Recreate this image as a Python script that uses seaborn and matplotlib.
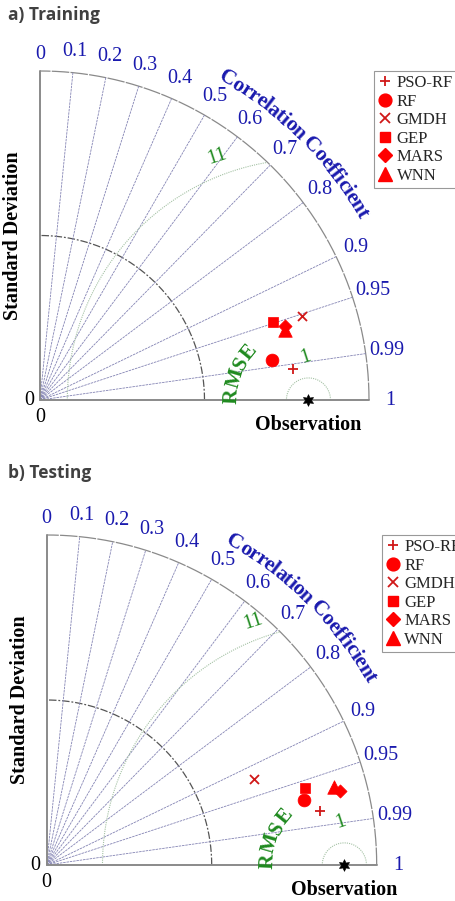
import numpy as np
import pandas as pd
import matplotlib
matplotlib.use("Agg")
import matplotlib.pyplot as plt
import seaborn as sns
from matplotlib.lines import Line2D
from matplotlib.textpath import TextToPath
from matplotlib.font_manager import FontProperties

# ---------------- data (normalised std: outer arc = 1) ----------------
models = ["PSO-RF", "RF", "GMDH", "GEP", "MARS", "WNN"]

train_std = [0.776, 0.715, 0.835, 0.746, 0.778, 0.775]
train_corr = [0.9927, 0.9854, 0.952, 0.948, 0.957, 0.9617]
train_obs_std = 0.816

test_std = [0.845, 0.804, 0.680, 0.817, 0.917, 0.903]
test_corr = [0.981, 0.9695, 0.924, 0.9587, 0.9694, 0.9655]
test_obs_std = 0.902

corr_ticks = [0.0, 0.1, 0.2, 0.3, 0.4, 0.5, 0.6, 0.7, 0.8, 0.9, 0.95, 0.99, 1.0]
corr_tick_labels = ["0", "0.1", "0.2", "0.3", "0.4", "0.5", "0.6", "0.7",
                    "0.8", "0.9", "0.95", "0.99", "1"]
rmse_labels = ["1", "11"]

panel_titles = ["a) Training", "b) Testing"]

# ---------------- style ----------------
W, H, DPI = 455, 901, 100
sns.set_theme(style="white")
plt.rcParams["font.family"] = ["Liberation Serif", "DejaVu Serif"]

BLUE = "#1a1aae"
GREEN = "#1f8a1f"
RED = "#ff0000"
DRED = "#d01818"

MARKERS = {"PSO-RF": "+", "RF": "o", "GMDH": "x", "GEP": "s", "MARS": "D", "WNN": "^"}
SIZES = {"PSO-RF": 60, "RF": 85, "GMDH": 42, "GEP": 55, "MARS": 45, "WNN": 95}
COLORS = {"PSO-RF": DRED, "RF": RED, "GMDH": DRED, "GEP": RED, "MARS": RED, "WNN": RED}

fig = plt.figure(figsize=(W / DPI, H / DPI), dpi=DPI)
ttp = TextToPath()


def curved_text(ax, text, cx, cy, r, a0, a1, fontsize, color, weight="bold"):
    prop = FontProperties(family="Liberation Serif", weight=weight, size=fontsize)
    lefts = [ttp.get_text_width_height_descent(text[:i], prop, False)[0] if i > 0 else 0.0
             for i in range(len(text) + 1)]
    centers = [(lefts[i] + lefts[i + 1]) / 2 for i in range(len(text))]
    c0, c1 = centers[0], centers[-1]
    for ch, c in zip(text, centers):
        if ch == " ":
            continue
        a = np.deg2rad(a0 + (c - c0) / (c1 - c0) * (a1 - a0))
        ax.text(cx + r * np.cos(a), cy + r * np.sin(a), ch, fontsize=fontsize,
                color=color, fontweight=weight, family="Liberation Serif",
                rotation=np.rad2deg(a) - 90, rotation_mode="anchor",
                ha="center", va="center")


def panel(title, title_y, ox, oy, R, top_px, bot_px, std, corr, obs, leg_px):
    ax = fig.add_axes([0, (H - bot_px) / H, 1, (bot_px - top_px) / H])
    ax.set_xlim(-ox / R, (W - ox) / R)
    ax.set_ylim(-(bot_px - oy) / R, (oy - top_px) / R)
    ax.axis("off")

    fig.text(8 / W, 1 - title_y / H, title, family="Open Sans", fontweight="bold",
             fontsize=12.5, color="#404040", ha="left", va="center")

    t = np.linspace(0, np.pi / 2, 300)
    # arcs
    ax.plot(np.cos(t), np.sin(t), color="#8a8a8a", lw=0.9, ls=(0, (14, 1)), zorder=1)
    ax.plot(0.5 * np.cos(t), 0.5 * np.sin(t), color="#555555", lw=0.9,
            ls=(0, (6, 1.5, 1.5, 1.5)), zorder=1)
    # correlation rays
    for c in corr_ticks[1:-1]:
        th = np.arccos(c)
        ax.plot([0, np.cos(th)], [0, np.sin(th)], color="#8484b4", lw=0.6,
                ls=(0, (3, 1)), zorder=1)
    # axes
    ax.plot([0, 1], [0, 0], color="#8a8a8a", lw=1.4, zorder=2)
    ax.plot([0, 0], [0, 1], color="#8a8a8a", lw=1.4, zorder=2)

    # correlation tick labels
    for c, lab in zip(corr_ticks, corr_tick_labels):
        th = np.arccos(c)
        rr = 1.05 if c < 0.05 else 1.065
        ax.text(rr * np.cos(th), rr * np.sin(th), lab, color=BLUE, fontsize=14.5,
                ha="center", va="center")
    ax.text(-0.034, 0, "0", fontsize=14.5, color="black", ha="center", va="center")
    ax.text(0, -0.053, "0", fontsize=14.5, color="black", ha="center", va="center")

    # RMSE contours centred on observation
    tt = np.linspace(0, np.pi, 400)
    for rad in (0.067, 0.733):
        xs = obs + rad * np.cos(tt)
        ys = rad * np.sin(tt)
        inside = np.hypot(xs, ys) <= 1.0
        xs = np.where(inside, xs, np.nan)
        ax.plot(xs, ys, color="#a5c2a5", lw=0.8, ls=(0, (1, 1)), zorder=1)
    ax.text(obs - 0.01, 0.13, rmse_labels[0], color=GREEN, fontsize=14.5,
            rotation=18, ha="center", va="center")
    ax.text(obs - 0.277, 0.738, rmse_labels[1], color=GREEN, fontsize=14.5,
            rotation=18, ha="center", va="center")
    curved_text(ax, "RMSE", obs, 0.0, 0.232, 177.5, 141.0, 15, GREEN)

    # axis titles
    curved_text(ax, "Correlation Coefficient", 0.0, 0.0, 1.13, 59.8, 30.1, 15.5, BLUE)
    ax.text(obs, -0.076, "Observation", fontsize=14.5, fontweight="bold",
            color="black", ha="center", va="center")
    ax.text(-0.082, 0.5, "Standard Deviation", fontsize=14.5, fontweight="bold",
            color="black", rotation=90, ha="center", va="center")

    # data points
    df = pd.DataFrame({"model": models, "std": std, "corr": corr})
    theta = np.arccos(df["corr"].to_numpy())
    df["x"] = df["std"] * np.cos(theta)
    df["y"] = df["std"] * np.sin(theta)
    for m in models:
        sub = df[df["model"] == m]
        mk = MARKERS[m]
        if mk in ("+", "x"):
            sns.scatterplot(data=sub, x="x", y="y", marker=mk, s=SIZES[m],
                            color=COLORS[m], linewidth=1.3, ax=ax, legend=False, zorder=5)
        else:
            sns.scatterplot(data=sub, x="x", y="y", marker=mk, s=SIZES[m],
                            color=COLORS[m], edgecolor=COLORS[m], linewidth=0.5,
                            ax=ax, legend=False, zorder=5)
    obs_df = pd.DataFrame({"x": [obs], "y": [0.0]})
    sns.scatterplot(data=obs_df, x="x", y="y", marker=(6, 1, 0), s=70, color="black",
                    edgecolor="black", linewidth=0.5, ax=ax, legend=False, zorder=6)
    ax.set_xlabel("")
    ax.set_ylabel("")

    handles = []
    for m in models:
        mk = MARKERS[m]
        ms = np.sqrt(SIZES[m])
        if mk in ("+", "x"):
            h = Line2D([], [], ls="none", marker=mk, markersize=ms, color=COLORS[m],
                       markeredgewidth=1.3)
        else:
            h = Line2D([], [], ls="none", marker=mk, markersize=ms, color=COLORS[m],
                       markeredgecolor=COLORS[m])
        handles.append(h)
    leg = ax.legend(handles, models, loc="upper left",
                    bbox_to_anchor=(leg_px[0] / W, 1 - leg_px[1] / H),
                    bbox_transform=fig.transFigure, frameon=True, fancybox=False,
                    framealpha=1, edgecolor="#999999", fontsize=12,
                    handlelength=0.8, handletextpad=0.3, labelspacing=0.15,
                    borderpad=0.25, borderaxespad=0)
    leg.get_frame().set_linewidth(0.8)
    return ax


panel(panel_titles[0], 15, 40.0, 400.0, 329.0, 30, 445, train_std, train_corr,
      train_obs_std, (374, 71))
panel(panel_titles[1], 473, 46.7, 865.0, 330.0, 490, 901, test_std, test_corr,
      test_obs_std, (381.7, 535))

fig.savefig("out.png", dpi=DPI)
